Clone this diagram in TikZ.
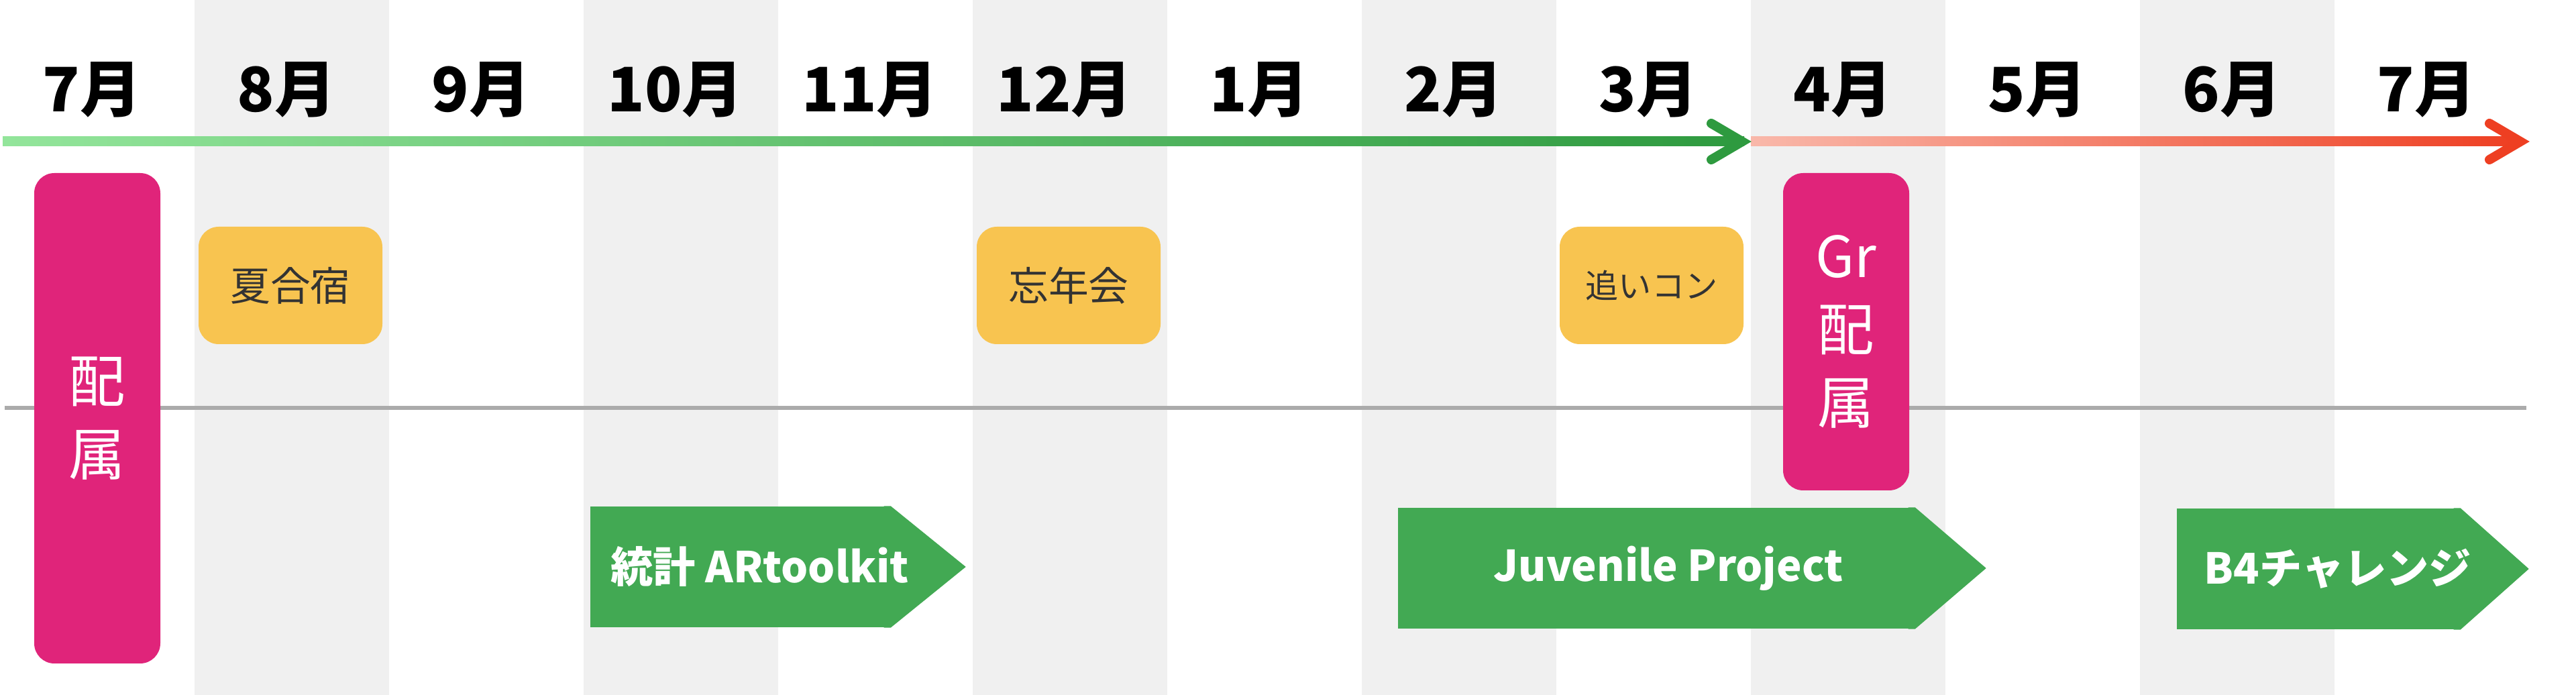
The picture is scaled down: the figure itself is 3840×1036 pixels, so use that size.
\documentclass[tikz,border=0pt]{standalone}
\usepackage{fontspec}
\setmainfont{Noto Sans CJK JP}
\usepackage{tikz}
\usetikzlibrary{positioning}
\definecolor{stripe}{HTML}{F0F0F0}
\definecolor{hline}{HTML}{ABABAB}
\definecolor{greenA}{HTML}{93E59B}
\definecolor{greenB}{HTML}{2E9A3F}
\definecolor{redA}{HTML}{F9B8AA}
\definecolor{redB}{HTML}{EE3F22}
\definecolor{eventyellow}{HTML}{F8C450}
\definecolor{eventtext}{HTML}{333333}
\definecolor{assignpink}{HTML}{E0247A}
\definecolor{taskgreen}{HTML}{42A953}
\tikzset{%
  month label/.style={
    font=\fontsize{26}{30}\selectfont\bfseries,
    inner sep=0pt
  },
  event box/.style={
    rounded corners=3mm,
    fill=eventyellow,
    text=eventtext,
    minimum width=27.4mm,
    minimum height=17.5mm
  },
  assign box/.style={
    rounded corners=3mm,
    fill=assignpink,
    text=white,
    minimum width=18.8mm,
    align=center,
    font=\fontsize{24}{31}\selectfont
  },
  task body/.style={
    fill=taskgreen,
    minimum height=18mm,
    inner sep=0pt
  },
  task text/.style={
    text=white,
    font=\fontsize{18}{20}\selectfont\bfseries
  },
  bar tip/.style={
    line width=1.4mm,
    line cap=round,
    line join=miter
  },
}

\begin{document}
\begin{tikzpicture}[x=0.1mm, y=-0.1mm]
\useasboundingbox (0,0) rectangle (3840,1036);
\fill[white] (0,0) rectangle (3840,1036);
    \foreach \i in {1,3,...,11}
        \fill[stripe] (290*\i,0) rectangle (290*\i+290,1036);
    \foreach \m [count=\i from 0] in {7,8,9,10,11,12,1,2,3,4,5,6,7}
        \node[month label] (m_\i) at (290*\i+137,134) {\m 月};
% timeline
\coordinate (tl_start) at (4,211);
\coordinate (tl_mid) at (2597,211);
\coordinate (tl_end) at (3757,211);
\shade[left color=greenA, right color=greenB] (4,204) rectangle (2600,218);
\shade[left color=redA, right color=redB] (2610,204) rectangle (3750,218);
\draw[bar tip, greenB] (tl_mid) ++(-46,-27) -- (tl_mid) -- ++(-46,27);
\draw[bar tip, redB] (tl_end) ++(-46,-27) -- (tl_end) -- ++(-46,27);
\draw[hline, line width=0.6mm] (7,608) -- (3766,608);
% events
\node[event box, font=\fontsize{17}{20}\selectfont] (ev_camp) at (433,425.5) {夏合宿};
\node[event box, font=\fontsize{17}{20}\selectfont] (ev_party) at (1593,425.5) {忘年会};
\node[event box, font=\fontsize{14}{20}\selectfont] (ev_kon) at (2462,425.5) {追いコン};
\node[assign box, minimum height=73.1mm] (as_lab) at (145,623.5) {配\\属};
\node[assign box, minimum height=47.3mm] (as_gr) at (2752,494.5) {Gr\\配\\属};
% tasks
\node[task body, minimum width=44.7mm] (tk_ar) at (1103.5,845) {};
\fill[taskgreen] ([xshift=-1mm]tk_ar.north east) -- (tk_ar.north east) -- ([xshift=11.2mm]tk_ar.east) -- (tk_ar.south east) -- ([xshift=-1mm]tk_ar.south east) -- cycle;
\node[task text] (tk_ar_t) at ([xshift=2.9mm]tk_ar.center) {統計 ARtoolkit};
\node[task body, minimum width=77mm] (tk_jp) at (2469,847) {};
\fill[taskgreen] ([xshift=-1mm]tk_jp.north east) -- (tk_jp.north east) -- ([xshift=10.6mm]tk_jp.east) -- (tk_jp.south east) -- ([xshift=-1mm]tk_jp.south east) -- cycle;
\node[task text] (tk_jp_t) at ([xshift=1.8mm]tk_jp.center) {Juvenile Project};
\node[task body, minimum width=42.2mm] (tk_b4) at (3456,848) {};
\fill[taskgreen] ([xshift=-1mm]tk_b4.north east) -- (tk_b4.north east) -- ([xshift=10.2mm]tk_b4.east) -- (tk_b4.south east) -- ([xshift=-1mm]tk_b4.south east) -- cycle;
\node[task text] (tk_b4_t) at ([xshift=2.9mm]tk_b4.center) {B4チャレンジ};
\end{tikzpicture}
\end{document}
